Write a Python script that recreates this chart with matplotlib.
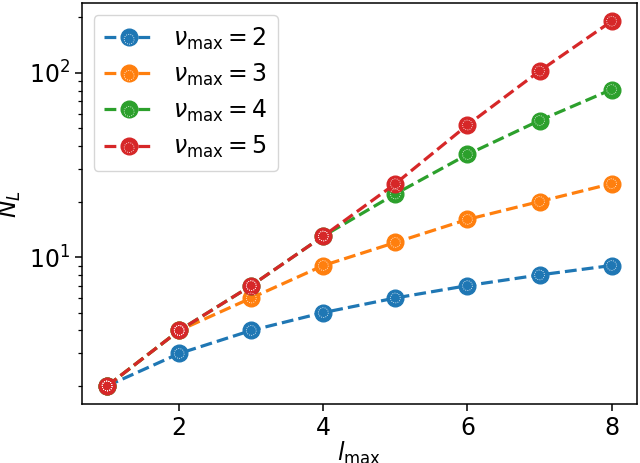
import matplotlib
matplotlib.use("Agg")
import matplotlib.pyplot as plt
from matplotlib.legend_handler import HandlerTuple

l_max = [1, 2, 3, 4, 5, 6, 7, 8]
nu2 = [2, 3, 4, 5, 6, 7, 8, 9]
nu3 = [2, 4, 6, 9, 12, 16, 20, 25]
nu4 = [2, 4, 7, 13, 22, 36, 55, 81]
nu5 = [2, 4, 7, 13, 25, 52, 102, 190]
labels = [r"$\nu_{\max} = 2$", r"$\nu_{\max} = 3$", r"$\nu_{\max} = 4$", r"$\nu_{\max} = 5$"]
colors = ["#1f77b4", "#ff7f0e", "#2ca02c", "#d62728"]

fig = plt.figure(figsize=(6.4, 4.63), dpi=100)
ax = fig.add_axes([0.128, 0.127, 0.867, 0.8665])

handles = []
for ys, lab, c in zip([nu2, nu3, nu4, nu5], labels, colors):
    ln, = ax.plot(l_max, ys, "--o", color=c, lw=2.3, ms=12, label=lab)
    sc = ax.scatter(l_max, ys, s=50, facecolors="none", edgecolors="white",
                    linewidths=0.6, linestyles=":", zorder=3)
    handles.append((ln, sc))

ax.set_yscale("log")
ax.set_xlabel(r"$l_{\max}$", fontsize=17, labelpad=0)
ax.set_ylabel(r"$N_L$", fontsize=17)
ax.tick_params(axis="both", which="major", labelsize=17, length=5, width=1.1)
ax.tick_params(axis="both", which="minor", length=3, width=0.9)
for s in ax.spines.values():
    s.set_linewidth(1.1)

ax.legend(handles, labels, loc="upper left", fontsize=17,
          handler_map={tuple: HandlerTuple(ndivide=1)}, handlelength=2.1,
          labelspacing=0.42, borderaxespad=0.5, borderpad=0.45)

fig.savefig("out.png", dpi=100)
